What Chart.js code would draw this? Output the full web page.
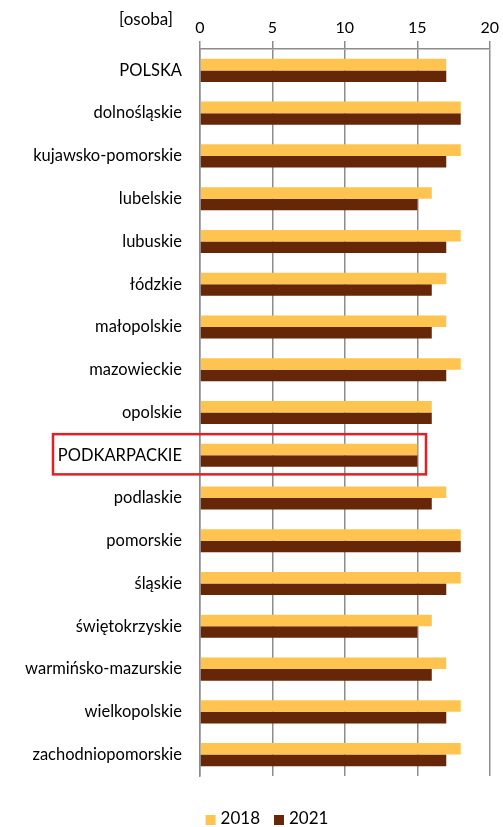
<!DOCTYPE html>
<html>
<head>
<meta charset="utf-8">
<script src="https://cdn.jsdelivr.net/npm/chart.js@4/dist/chart.umd.min.js"></script>
<style>
  html, body { margin: 0; padding: 0; background: #fff; }
  #wrap { width: 503px; height: 827px; }
</style>
</head>
<body>
<div id="wrap"><canvas id="chart" width="503" height="827"></canvas></div>
<script>
// Data
const regions = [
    "POLSKA", "dolnośląskie", "kujawsko-pomorskie", "lubelskie", "lubuskie",
    "łódzkie", "małopolskie", "mazowieckie", "opolskie", "PODKARPACKIE",
    "podlaskie", "pomorskie", "śląskie", "świętokrzyskie",
    "warmińsko-mazurskie", "wielkopolskie", "zachodniopomorskie"
];
const values2018 = [17, 18, 18, 16, 18, 17, 17, 18, 16, 15, 17, 18, 18, 16, 17, 18, 18];
const values2021 = [17, 18, 17, 15, 17, 16, 16, 17, 16, 15, 16, 18, 17, 15, 16, 17, 17];
const xTicks = [0, 5, 10, 15, 20];
const unitLabel = "[osoba]";
const highlighted = "PODKARPACKIE";

const FONT = "Lato";
const gridGray = "#8c8c8c";

// unit label, red frame round the highlighted region, and the legend
const extras = {
    id: "extras",
    afterDraw(c) {
        const ctx = c.ctx;
        const x = c.scales.x, y = c.scales.y;
        ctx.save();
        ctx.font = "17px " + FONT;
        ctx.fillStyle = "#000";
        ctx.textAlign = "right";
        ctx.textBaseline = "middle";
        ctx.fillText(unitLabel, x.left - 27, 20);

        const i = regions.indexOf(highlighted);
        const cy = y.getPixelForValue(i) - 1;
        const half = (y.getPixelForValue(1) - y.getPixelForValue(0)) * 0.47;
        ctx.strokeStyle = "#e31e24";
        ctx.lineWidth = 2.5;
        ctx.strokeRect(53, cy - half, x.getPixelForValue(15.6) - 53, half * 2);

        // legend
        ctx.font = "17px " + FONT;
        ctx.textAlign = "left";
        const box = 10, gap = 5, between = 14;
        const sets = c.data.datasets;
        let total = 0;
        sets.forEach((d, k) => {
            total += box + gap + ctx.measureText(d.label).width + (k < sets.length - 1 ? between : 0);
        });
        let lx = 267 - total / 2;
        const ly = 819;
        sets.forEach(d => {
            ctx.fillStyle = d.backgroundColor;
            ctx.fillRect(lx, ly - 4, box, box);
            lx += box + gap;
            ctx.fillStyle = "#000";
            ctx.fillText(d.label, lx, ly);
            lx += ctx.measureText(d.label).width + between;
        });
        ctx.restore();
    }
};

new Chart(document.getElementById("chart"), {
    type: "bar",
    data: {
        labels: regions,
        datasets: [
            { label: "2018", data: values2018, backgroundColor: "#ffc350" },
            { label: "2021", data: values2021, backgroundColor: "#662608" }
        ]
    },
    options: {
        indexAxis: "y",
        responsive: false,
        animation: false,
        layout: { padding: { left: 4, right: 11, top: 7, bottom: 51 } },
        datasets: { bar: { categoryPercentage: 0.54, barPercentage: 1.0 } },
        scales: {
            x: {
                position: "top",
                min: 0, max: 20,
                afterBuildTicks: s => { s.ticks = xTicks.map(v => ({ value: v })); },
                afterFit: s => { s.height = 42; },
                grid: { color: gridGray, lineWidth: 1.5, tickLength: 8 },
                border: { display: true, color: gridGray, width: 1.5 },
                ticks: { color: "#000", font: { family: FONT, size: 16 }, padding: 4, maxRotation: 0 }
            },
            y: {
                afterFit: s => { s.width = 196; },
                grid: { display: false },
                border: { display: true, color: gridGray, width: 1.5 },
                ticks: { color: "#000", font: { family: FONT, size: 16.5 }, padding: 10, autoSkip: false }
            }
        },
        plugins: {
            legend: { display: false },
            tooltip: { enabled: false }
        }
    },
    plugins: [extras]
});
</script>
</body>
</html>
